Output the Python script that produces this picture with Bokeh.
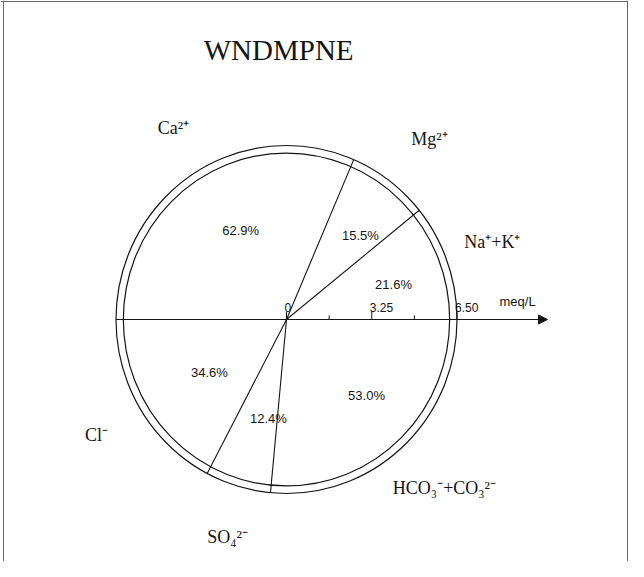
import numpy as np
from bokeh.plotting import figure
from bokeh.models import ColumnDataSource, Arrow, NormalHead, Span
from bokeh.core.properties import value
from bokeh.embed import file_html
from bokeh.resources import INLINE

# ---------------- data ----------------
title_text = "WNDMPNE"
cation_names = ["Na⁺+K⁺", "Mg²⁺", "Ca²⁺"]          # counter-clockwise from 0°
cation_pct = [21.6, 15.5, 62.9]
anion_names = ["HCO₃⁻+CO₃²⁻", "SO₄²⁻", "Cl⁻"]       # clockwise from 0°
anion_pct = [53.0, 12.4, 34.6]
scale_max = 6.50
tick_values = [0, 3.25, 6.50]
tick_labels = ["0", "3.25", "6.50"]
minor_ticks = [1.625, 4.875]
unit_label = "meq/L"

# ---------------- layout constants ----------------
W, H = 628, 561
SX = 170.5 / scale_max      # px per unit horizontally
SY = 174.0 / scale_max      # px per unit vertically
CX, CY = 286, 319           # centre in canvas px
INNER = 6.22
ARROW_END = 9.95
INK = "#151515"

# label positions (layout)
cat_pct_pos = [(4.08, 1.31), (2.82, 3.14), (-1.75, 3.32)]
an_pct_pos = [(3.05, -2.84), (-0.69, -3.70), (-2.94, -1.98)]
cat_name_pos = [(7.85, 2.88), (5.45, 6.76), (-4.31, 7.17)]
an_name_pos = [(6.02, -6.28), (-2.25, -8.11), (-7.24, -4.33)]
title_pos = (-0.30, 10.05)

p = figure(width=W, height=H, output_backend="svg", toolbar_location=None,
           x_range=(-CX / SX, (W - CX) / SX), y_range=(-(H - CY) / SY, CY / SY),
           x_axis_type=None, y_axis_type=None, min_border=0,
           background_fill_color="white", border_fill_color="white")
p.outline_line_color = None
p.grid.visible = False

# frame (left, top, right)
for loc, dim in [((11 - 294) / SX, "height"), ((635 - 294) / SX, "height"), ((327 - 9) / SY, "width")]:
    p.add_layout(Span(location=loc, dimension=dim, line_color="#666666", line_width=1))

# circles
p.ellipse(x=[0, 0], y=[0, 0], width=[2 * scale_max, 2 * INNER], height=[2 * scale_max, 2 * INNER],
          fill_color=None, line_color=INK, line_width=1.2)

# dividers
cat_ang = np.deg2rad(np.cumsum(cation_pct)[:-1] / 100 * 180)
an_ang = -np.deg2rad(np.cumsum(anion_pct)[:-1] / 100 * 180)
angs = np.concatenate([cat_ang, an_ang])
p.segment(x0=np.zeros(len(angs)), y0=np.zeros(len(angs)),
          x1=scale_max * np.cos(angs), y1=scale_max * np.sin(angs),
          line_color=INK, line_width=1.1)

# axis with arrow
p.add_layout(Arrow(end=NormalHead(size=9, fill_color=INK, line_color=INK, line_width=1),
                   x_start=-scale_max, y_start=0, x_end=ARROW_END, y_end=0,
                   line_color=INK, line_width=1.1))
p.segment(x0=tick_values, y0=[0] * len(tick_values), x1=tick_values, y1=[8 / SY] * len(tick_values),
          line_color=INK, line_width=1)
p.segment(x0=minor_ticks, y0=[0] * len(minor_ticks), x1=minor_ticks, y1=[4 / SY] * len(minor_ticks),
          line_color=INK, line_width=1)
p.text(x=tick_values, y=[0] * len(tick_values), text=tick_labels, x_offset=-2, y_offset=-8,
       text_font=value("Liberation Sans"), text_font_size="12px", text_color=INK,
       text_align="left", text_baseline="bottom")
p.text(x=[8.12], y=[0], text=[unit_label], y_offset=-11,
       text_font=value("Liberation Sans"), text_font_size="13px", text_color=INK,
       text_align="left", text_baseline="bottom")

# percentages
pct_src = ColumnDataSource(dict(
    x=[q[0] for q in cat_pct_pos + an_pct_pos],
    y=[q[1] for q in cat_pct_pos + an_pct_pos],
    t=[f"{v:.1f}%" for v in cation_pct + anion_pct]))
p.text(x="x", y="y", text="t", source=pct_src, text_font=value("Liberation Sans"),
       text_font_size="13px", text_color=INK, text_align="center", text_baseline="middle")

# ion names
name_src = ColumnDataSource(dict(
    x=[q[0] for q in cat_name_pos + an_name_pos],
    y=[q[1] for q in cat_name_pos + an_name_pos],
    t=cation_names + anion_names))
p.text(x="x", y="y", text="t", source=name_src, text_font=value("Liberation Serif"),
       text_font_size="18px", text_color=INK, text_align="center", text_baseline="middle")

# title
p.text(x=[title_pos[0]], y=[title_pos[1]], text=[title_text], text_font=value("Liberation Serif"),
       text_font_size="29px", text_color=INK, text_align="center", text_baseline="middle")

open("out.html", "w").write(file_html(p, INLINE))
